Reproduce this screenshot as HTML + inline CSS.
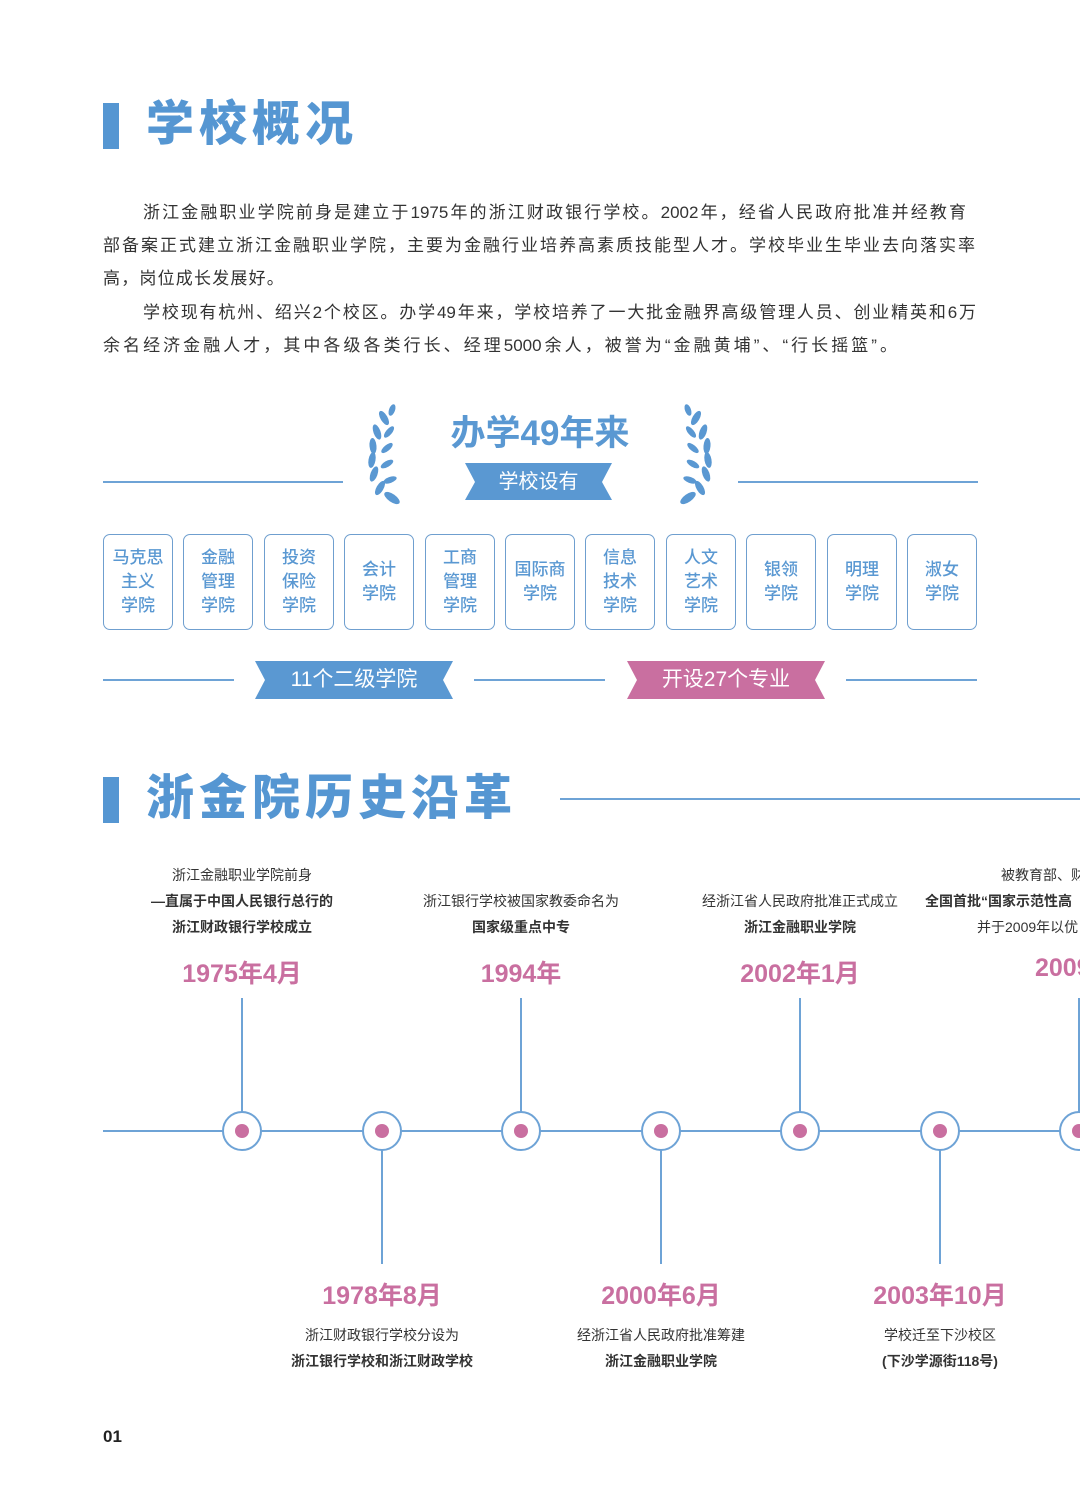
<!DOCTYPE html>
<html><head><meta charset="utf-8"><style>
*{margin:0;padding:0;box-sizing:border-box}
body{width:1080px;height:1497px;background:#fff;position:relative;overflow:hidden;font-family:"Liberation Sans","Noto Sans CJK SC",sans-serif;color:#333}
.a{position:absolute}
.h{font-weight:900;color:#5596d2;font-size:48px;letter-spacing:5px;line-height:1}
.bar{background:#5596d2;width:16px;height:46px}
.tl{position:absolute;font-size:17px;line-height:33px;height:33px;color:#333;text-align:justify;text-align-last:justify;white-space:nowrap}
.box{position:absolute;top:534px;width:70px;height:96px;border:1.5px solid #6f9fcf;border-radius:7px;display:flex;align-items:center;justify-content:center;text-align:center;color:#5a98d2;font-size:17px;line-height:24px;font-weight:500}
.ln{position:absolute;height:2px;background:#6ea3d6}
.c{position:absolute;text-align:center;width:300px;font-size:14px;line-height:26px;color:#333}
.yr{position:absolute;text-align:center;width:300px;font-size:25px;font-weight:bold;color:#c96fa0}
.vl{position:absolute;width:2px;background:#6ea3d6}
.nd{position:absolute;width:40px;height:40px;border:2px solid #6ea3d6;border-radius:50%;background:#fff}
.nd:after{content:"";position:absolute;left:11px;top:11px;width:14px;height:14px;border-radius:50%;background:#c96fa0}
</style></head><body>
<div class="a bar" style="left:103px;top:103px"></div>
<div class="a h" style="left:146px;top:101px">学校概况</div>
<div class="tl" style="left:143px;top:196px;width:823px">浙江金融职业学院前身是建立于1975年的浙江财政银行学校。2002年，经省人民政府批准并经教育</div>
<div class="tl" style="left:103px;top:229px;width:872px">部备案正式建立浙江金融职业学院，主要为金融行业培养高素质技能型人才。学校毕业生毕业去向落实率</div>
<div class="tl" style="left:103px;top:262px;letter-spacing:1.2px;text-align-last:auto">高，岗位成长发展好。</div>
<div class="tl" style="left:143px;top:296px;width:833px">学校现有杭州、绍兴2个校区。办学49年来，学校培养了一大批金融界高级管理人员、创业精英和6万</div>
<div class="tl" style="left:103px;top:329px;width:794px">余名经济金融人才，其中各级各类行长、经理5000余人，被誉为“金融黄埔”、“行长摇篮”。</div>

<div class="ln" style="left:103px;top:481px;width:240px"></div>
<div class="ln" style="left:738px;top:481px;width:240px"></div>
<svg class="a" style="left:360px;top:400px" width="360" height="105">
<g fill="#5a98d2">
<g id="L">
<ellipse cx="32" cy="98" rx="9" ry="4" transform="rotate(35 32 98)"/>
<ellipse cx="20" cy="88" rx="8" ry="3.5" transform="rotate(-60 20 88)"/>
<ellipse cx="14" cy="74" rx="8" ry="3.5" transform="rotate(-70 14 74)"/>
<ellipse cx="12" cy="60" rx="8" ry="3.5" transform="rotate(-80 12 60)"/>
<ellipse cx="13" cy="46" rx="8" ry="3.5" transform="rotate(-95 13 46)"/>
<ellipse cx="17" cy="32" rx="8" ry="3.5" transform="rotate(-110 17 32)"/>
<ellipse cx="24" cy="18" rx="8" ry="3.5" transform="rotate(-120 24 18)"/>
<ellipse cx="30" cy="80" rx="7" ry="3" transform="rotate(-20 30 80)"/>
<ellipse cx="27" cy="64" rx="7" ry="3" transform="rotate(-30 27 64)"/>
<ellipse cx="27" cy="48" rx="7" ry="3" transform="rotate(-40 27 48)"/>
<ellipse cx="29" cy="32" rx="7" ry="3" transform="rotate(-50 29 32)"/>
<ellipse cx="32" cy="10" rx="6" ry="3" transform="rotate(-70 32 10)"/>
</g>
<use href="#L" transform="translate(360 0) scale(-1 1)"/>
</g>
<polygon points="105,63 252,63 242,82 252,100 105,100 115,82" fill="#5a98d2"/>
</svg>
<div class="a" style="left:380px;top:412px;width:320px;text-align:center;font-size:35px;font-weight:bold;color:#5a98d2;line-height:44px">办学49年来</div>
<div class="a" style="left:465px;top:468px;width:147px;text-align:center;font-size:20px;color:#fff;line-height:28px">学校设有</div>

<div class="box" style="left:103px">马克思<br>主义<br>学院</div>
<div class="box" style="left:183px">金融<br>管理<br>学院</div>
<div class="box" style="left:264px">投资<br>保险<br>学院</div>
<div class="box" style="left:344px">会计<br>学院</div>
<div class="box" style="left:425px">工商<br>管理<br>学院</div>
<div class="box" style="left:505px">国际商<br>学院</div>
<div class="box" style="left:585px">信息<br>技术<br>学院</div>
<div class="box" style="left:666px">人文<br>艺术<br>学院</div>
<div class="box" style="left:746px">银领<br>学院</div>
<div class="box" style="left:827px">明理<br>学院</div>
<div class="box" style="left:907px">淑女<br>学院</div>

<div class="ln" style="left:103px;top:679px;width:131px"></div>
<div class="ln" style="left:474px;top:679px;width:131px"></div>
<div class="ln" style="left:846px;top:679px;width:131px"></div>
<svg class="a" style="left:255px;top:661px" width="570" height="39">
<polygon points="0,0 198,0 188,19 198,38 0,38 10,19" fill="#5a98d2"/>
<polygon points="372,0 570,0 560,19 570,38 372,38 382,19" fill="#c96fa0"/>
</svg>
<div class="a" style="left:255px;top:666px;width:198px;text-align:center;font-size:21px;color:#fff;line-height:28px">11个二级学院</div>
<div class="a" style="left:627px;top:666px;width:198px;text-align:center;font-size:21px;color:#fff;line-height:28px">开设27个专业</div>

<div class="a bar" style="left:103px;top:777px"></div>
<div class="a h" style="left:146px;top:775px">浙金院历史沿革</div>
<div class="ln" style="left:560px;top:798px;width:520px"></div>

<div class="ln" style="left:103px;top:1130px;width:977px"></div>
<div class="vl" style="left:241px;top:998px;height:133px"></div>
<div class="vl" style="left:520px;top:998px;height:133px"></div>
<div class="vl" style="left:799px;top:998px;height:133px"></div>
<div class="vl" style="left:1078px;top:998px;height:133px"></div>
<div class="vl" style="left:381px;top:1131px;height:133px"></div>
<div class="vl" style="left:660px;top:1131px;height:133px"></div>
<div class="vl" style="left:939px;top:1131px;height:133px"></div>
<div class="nd" style="left:222px;top:1111px"></div>
<div class="nd" style="left:362px;top:1111px"></div>
<div class="nd" style="left:501px;top:1111px"></div>
<div class="nd" style="left:641px;top:1111px"></div>
<div class="nd" style="left:780px;top:1111px"></div>
<div class="nd" style="left:920px;top:1111px"></div>
<div class="nd" style="left:1059px;top:1111px"></div>

<div class="c" style="left:92px;top:862px">浙江金融职业学院前身<br><b>—直属于中国人民银行总行的</b><br><b>浙江财政银行学校成立</b></div>
<div class="yr" style="left:92px;top:954px">1975年4月</div>
<div class="c" style="left:371px;top:888px">浙江银行学校被国家教委命名为<br><b>国家级重点中专</b></div>
<div class="yr" style="left:371px;top:954px">1994年</div>
<div class="c" style="left:650px;top:888px">经浙江省人民政府批准正式成立<br><b>浙江金融职业学院</b></div>
<div class="yr" style="left:650px;top:954px">2002年1月</div>
<div class="c" style="left:929px;top:862px;text-align:left;width:200px;white-space:nowrap"><span style="margin-left:72px">被教育部、财</span><br><b style="margin-left:-4px">全国首批“国家示范性高</b><br><span style="margin-left:48px">并于2009年以优</span></div>
<div class="yr" style="left:1035px;top:954px;text-align:left;width:100px">2009</div>

<div class="yr" style="left:232px;top:1276px">1978年8月</div>
<div class="c" style="left:232px;top:1322px">浙江财政银行学校分设为<br><b>浙江银行学校和浙江财政学校</b></div>
<div class="yr" style="left:511px;top:1276px">2000年6月</div>
<div class="c" style="left:511px;top:1322px">经浙江省人民政府批准筹建<br><b>浙江金融职业学院</b></div>
<div class="yr" style="left:790px;top:1276px">2003年10月</div>
<div class="c" style="left:790px;top:1322px">学校迁至下沙校区<br><b>(下沙学源街118号)</b></div>

<div class="a" style="left:103px;top:1427px;font-size:17px;font-weight:bold;color:#222">01</div>
</body></html>
